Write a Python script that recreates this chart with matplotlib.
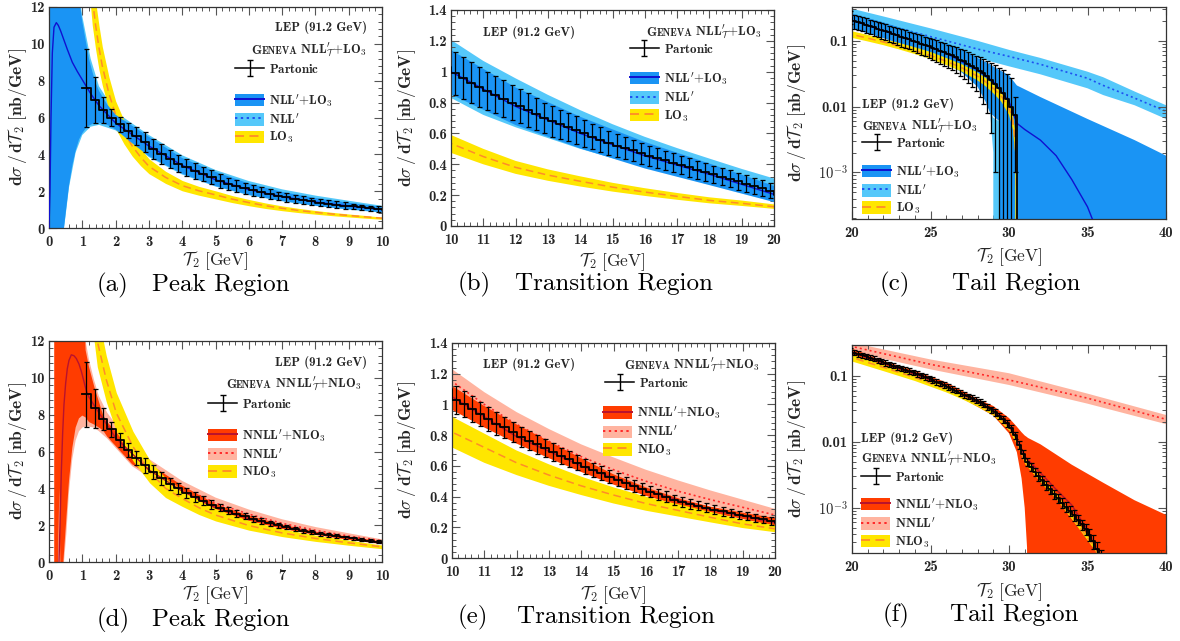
import numpy as np
import matplotlib
matplotlib.use("Agg")
import matplotlib.pyplot as plt
from matplotlib.patches import Patch
from matplotlib.lines import Line2D
from matplotlib.legend_handler import HandlerErrorbar
from matplotlib.container import ErrorbarContainer
from matplotlib.offsetbox import TextArea, HPacker, AnchoredOffsetbox
from matplotlib.ticker import MultipleLocator, FixedLocator, FixedFormatter, LogLocator, NullFormatter

plt.rcParams["mathtext.fontset"] = "cm"
plt.rcParams["axes.unicode_minus"] = False

# ===================== DATA =====================
BIN_WIDTH = 0.25
HIST_START = 1.0

# ---- Row 1: NLL'_T + LO3 ----
hist1_peak = [7.60, 6.95, 6.40, 6.00, 5.62, 5.28, 4.98, 4.68, 4.30, 4.00,
              3.75, 3.50, 3.30, 3.10, 2.93, 2.76, 2.55, 2.40, 2.27, 2.15,
              2.04, 1.94, 1.84, 1.74, 1.66, 1.58, 1.51, 1.44, 1.38, 1.32,
              1.27, 1.22, 1.17, 1.12, 1.07, 1.03]
err1_peak = [2.10, 1.25, 0.70, 0.45, 0.42, 0.42, 0.50, 0.55, 0.55, 0.55,
             0.50, 0.48, 0.45, 0.43, 0.40, 0.38, 0.36, 0.34, 0.32, 0.30,
             0.29, 0.27, 0.26, 0.24, 0.23, 0.22, 0.21, 0.20, 0.19, 0.18,
             0.17, 0.165, 0.16, 0.15, 0.145, 0.14]
hist1_trans = [0.99, 0.96, 0.93, 0.90, 0.875, 0.85, 0.825, 0.80, 0.775, 0.75,
               0.725, 0.70, 0.68, 0.66, 0.64, 0.62, 0.60, 0.58, 0.56, 0.54,
               0.52, 0.505, 0.49, 0.47, 0.455, 0.44, 0.425, 0.41, 0.395, 0.38,
               0.365, 0.35, 0.335, 0.32, 0.305, 0.29, 0.275, 0.26, 0.245, 0.23]
err1_trans = [0.14, 0.135, 0.13, 0.13, 0.125, 0.12, 0.12, 0.115, 0.11, 0.11,
              0.105, 0.10, 0.10, 0.095, 0.09, 0.09, 0.085, 0.082, 0.08, 0.078,
              0.075, 0.072, 0.07, 0.068, 0.066, 0.065, 0.064, 0.062, 0.061, 0.06,
              0.059, 0.058, 0.057, 0.056, 0.055, 0.054, 0.053, 0.052, 0.051, 0.05]
hist1_tail = [0.200, 0.192, 0.184, 0.176, 0.168, 0.161, 0.154, 0.147, 0.140, 0.134,
              0.128, 0.122, 0.116, 0.111, 0.106, 0.101, 0.096, 0.091, 0.087, 0.083,
              0.079, 0.075, 0.071, 0.067, 0.063, 0.060, 0.056, 0.052, 0.049, 0.045,
              0.042, 0.038, 0.035, 0.032, 0.029, 0.025, 0.022, 0.019, 0.016, 0.013,
              0.010, 0.0075, 0.0]
err1_tail = [0.046, 0.045, 0.044, 0.043, 0.042, 0.041, 0.040, 0.039, 0.038, 0.037,
             0.036, 0.035, 0.034, 0.033, 0.032, 0.031, 0.030, 0.030, 0.029, 0.029,
             0.028, 0.027, 0.026, 0.026, 0.025, 0.024, 0.024, 0.023, 0.023, 0.022,
             0.022, 0.021, 0.021, 0.021, 0.021, 0.021, 0.021, 0.020, 0.020, 0.018,
             0.017, 0.0065, 0.0]

# matched NLL'+LO3 central curve
m1_x = [0.0, 0.03, 0.06, 0.1, 0.15, 0.22, 0.28, 0.35, 0.45, 0.55,
        0.7, 0.85, 1.0, 1.25, 1.5, 2.0, 3.0, 4.0, 5.0, 6.0,
        7.0, 8.0, 9.0, 10.0, 12.0, 14.0, 16.0, 18.0, 20.0, 22.0,
        24.0, 26.0, 28.0, 29.0, 30.0, 30.5, 31.0, 32.0, 33.0, 34.0,
        35.0, 35.5]
m1_y = [0.0, 2.0, 6.0, 9.5, 10.9, 11.15, 11.0, 10.7, 10.2, 9.7,
        9.0, 8.5, 8.05, 7.3, 6.65, 5.7, 4.45, 3.4, 2.62, 2.08,
        1.7, 1.41, 1.19, 1.0, 0.775, 0.6, 0.455, 0.335, 0.205, 0.143,
        0.098, 0.065, 0.036, 0.024, 0.012, 0.0056, 0.0045, 0.0031, 0.0018, 0.00078,
        0.0003, 0.00015]
# matched NLL'+LO3 uncertainty band
mb1_x = [0.0, 0.45, 0.5, 0.6, 0.7, 0.8, 0.9, 1.0, 1.1, 1.2,
         1.3, 1.4, 1.5, 1.75, 2.0, 2.5, 3.0, 4.0, 5.0, 6.0,
         7.0, 8.0, 9.0, 10.0, 12.0, 14.0, 16.0, 18.0, 20.0, 22.0,
         24.0, 26.0, 27.0, 28.0, 28.5, 28.8, 29.38, 29.4, 30.0, 30.5,
         32.0, 35.0, 38.0, 40.0]
mb1_lo = [0.0, 0.0, 0.8, 2.3, 3.4, 4.2, 4.8, 5.15, 5.4, 5.55,
          5.65, 5.7, 5.72, 5.6, 5.35, 4.6, 3.9, 2.95, 2.28, 1.8,
          1.47, 1.21, 1.02, 0.853, 0.654, 0.503, 0.373, 0.265, 0.155, 0.11,
          0.075, 0.046, 0.033, 0.02, 0.012, 0.008, 0.006, 0.0, 0.0, 0.0,
          0.0, 0.0, 0.0, 0.0]
mb1_hi = [14.0, 14.0, 14.0, 14.0, 14.0, 14.0, 12.6, 11.2, 10.2, 9.2,
          8.5, 7.9, 7.45, 6.7, 6.15, 5.55, 4.95, 3.8, 3.05, 2.42,
          1.96, 1.63, 1.37, 1.14, 0.898, 0.708, 0.545, 0.405, 0.26, 0.19,
          0.135, 0.092, 0.075, 0.055, 0.048, 0.044, 0.036, 0.036, 0.03, 0.021,
          0.014, 0.0065, 0.0031, 0.0018]
# small light sliver at the left of the drop (tail)
sl1_x = [28.8, 29.0, 29.15, 29.4]
sl1_lo = [0.008, 0.002, 0.0, 0.0]
sl1_hi = [0.008, 0.0068, 0.0064, 0.006]
# NLL' resummed band and central
n1_x = [0.0, 0.45, 0.5, 0.6, 0.8, 1.0, 1.25, 1.5, 2.0, 3.0,
        4.0, 5.0, 6.0, 7.0, 8.0, 9.0, 10.0, 11.0, 12.0, 13.0,
        14.0, 15.0, 16.0, 17.0, 18.0, 19.0, 20.0, 22.0, 25.0, 28.0,
        30.0, 32.0, 35.0, 36.0, 38.0, 40.0]
n1_lo = [0.0, 0.0, 0.7, 2.2, 4.1, 5.05, 5.5, 5.6, 5.3, 3.85,
         2.9, 2.25, 1.78, 1.45, 1.2, 1.0, 0.83, 0.72, 0.64, 0.57,
         0.5, 0.44, 0.39, 0.34, 0.29, 0.24, 0.197, 0.152, 0.087, 0.055,
         0.041, 0.031, 0.019, 0.015, 0.0105, 0.0065]
n1_hi = [14.0, 14.0, 14.0, 14.0, 14.0, 11.5, 9.2, 7.7, 6.3, 5.05,
         3.95, 3.15, 2.55, 2.1, 1.76, 1.48, 1.206, 1.07, 0.957, 0.85,
         0.751, 0.66, 0.578, 0.505, 0.437, 0.37, 0.308, 0.235, 0.155, 0.1,
         0.073, 0.055, 0.034, 0.028, 0.017, 0.0105]
n1c_x = [1.0, 2.0, 3.0, 4.0, 5.0, 6.0, 7.0, 8.0, 9.0, 10.0,
         12.0, 14.0, 16.0, 18.0, 20.0, 22.0, 25.0, 28.0, 30.0, 32.0,
         35.0, 36.0, 38.0, 40.0]
n1c_y = [8.2, 5.8, 4.45, 3.42, 2.68, 2.15, 1.76, 1.46, 1.24, 1.03,
         0.8, 0.625, 0.48, 0.36, 0.233, 0.18, 0.116, 0.075, 0.058, 0.044,
         0.027, 0.021, 0.0135, 0.0085]
# LO3 fixed order
l1_x = [1.15, 1.3, 1.4, 1.5, 1.6, 1.8, 2.0, 2.25, 2.5, 2.75,
        3.0, 3.5, 4.0, 4.5, 5.0, 5.5, 6.0, 6.5, 7.0, 7.5,
        8.0, 8.5, 9.0, 9.5, 10.0, 11.0, 12.0, 13.0, 14.0, 15.0,
        16.0, 17.0, 18.0, 19.0, 20.0, 21.0, 22.0, 23.0, 24.0, 25.0,
        26.0, 27.0, 28.0, 28.5, 29.0, 29.5, 30.0, 30.25, 30.4, 30.5, 30.52]
l1_c = [16.0, 12.5, 11.0, 9.8, 8.8, 7.3, 6.15, 5.2, 4.45, 3.85,
        3.35, 2.75, 2.3, 2.02, 1.8, 1.57, 1.38, 1.21, 1.07, 0.95,
        0.85, 0.76, 0.68, 0.605, 0.535, 0.45, 0.38, 0.33, 0.29, 0.252,
        0.22, 0.192, 0.166, 0.147, 0.125, 0.11, 0.096, 0.083, 0.071, 0.06,
        0.049, 0.039, 0.029, 0.024, 0.019, 0.0145, 0.0095, 0.006, 0.003, 0.0005, 0.0]
l1_lo = [14.0, 11.0, 9.7, 8.6, 7.75, 6.4, 5.4, 4.57, 3.9, 3.38,
         2.95, 2.42, 2.02, 1.78, 1.58, 1.38, 1.21, 1.06, 0.94, 0.835,
         0.75, 0.67, 0.6, 0.532, 0.474, 0.4, 0.338, 0.293, 0.256, 0.223,
         0.195, 0.17, 0.147, 0.13, 0.111, 0.098, 0.086, 0.074, 0.063, 0.053,
         0.043, 0.034, 0.025, 0.0205, 0.016, 0.012, 0.0075, 0.0045, 0.0018, 0.0, 0.0]
l1_hi = [18.0, 14.0, 12.3, 11.0, 9.85, 8.2, 6.9, 5.85, 5.0, 4.32,
         3.76, 3.08, 2.58, 2.26, 2.02, 1.76, 1.55, 1.36, 1.2, 1.065,
         0.95, 0.85, 0.76, 0.68, 0.59, 0.5, 0.422, 0.367, 0.322, 0.28,
         0.245, 0.214, 0.186, 0.165, 0.14, 0.123, 0.107, 0.093, 0.08, 0.068,
         0.055, 0.044, 0.033, 0.0275, 0.022, 0.017, 0.0115, 0.0075, 0.0042, 0.0012, 0.0]

# ---- Row 2: NNLL'_T + NLO3 ----
hist2_peak = [9.10, 8.35, 7.75, 7.20, 6.60, 6.10, 5.65, 5.25, 4.90, 4.55,
              4.25, 4.00, 3.75, 3.52, 3.32, 3.12, 2.95, 2.78, 2.62, 2.48,
              2.35, 2.23, 2.11, 2.00, 1.89, 1.79, 1.70, 1.62, 1.54, 1.47,
              1.40, 1.34, 1.28, 1.22, 1.16, 1.10]
err2_peak = [1.75, 1.05, 0.60, 0.42, 0.38, 0.38, 0.40, 0.40, 0.38, 0.35,
             0.33, 0.30, 0.28, 0.26, 0.24, 0.22, 0.20, 0.19, 0.18, 0.17,
             0.16, 0.15, 0.14, 0.13, 0.125, 0.12, 0.115, 0.11, 0.105, 0.10,
             0.095, 0.09, 0.09, 0.085, 0.085, 0.08]
hist2_trans = [1.03, 1.00, 0.97, 0.94, 0.905, 0.875, 0.85, 0.82, 0.79, 0.765,
               0.74, 0.715, 0.69, 0.665, 0.645, 0.62, 0.595, 0.575, 0.555, 0.53,
               0.51, 0.49, 0.47, 0.45, 0.43, 0.415, 0.40, 0.38, 0.365, 0.352,
               0.34, 0.327, 0.315, 0.304, 0.293, 0.282, 0.271, 0.261, 0.251, 0.242]
err2_trans = [0.09, 0.085, 0.082, 0.079, 0.076, 0.073, 0.07, 0.067, 0.065, 0.062,
              0.06, 0.058, 0.056, 0.054, 0.052, 0.05, 0.048, 0.046, 0.045, 0.043,
              0.042, 0.04, 0.039, 0.038, 0.036, 0.035, 0.034, 0.033, 0.032, 0.031,
              0.03, 0.029, 0.029, 0.028, 0.027, 0.027, 0.026, 0.026, 0.025, 0.025]
hist2_tail = [0.225, 0.216, 0.207, 0.198, 0.190, 0.182, 0.174, 0.166, 0.158, 0.151,
              0.144, 0.137, 0.131, 0.125, 0.119, 0.113, 0.107, 0.102, 0.097, 0.092,
              0.087, 0.082, 0.077, 0.073, 0.068, 0.064, 0.060, 0.056, 0.052, 0.049,
              0.046, 0.043, 0.0405, 0.038, 0.034, 0.031, 0.028, 0.025, 0.022, 0.019,
              0.016, 0.0125, 0.009, 0.0065, 0.005, 0.0042, 0.0035, 0.003, 0.0026, 0.0022,
              0.0019, 0.0016, 0.0014, 0.0012, 0.00104, 0.0009, 0.00077, 0.00066, 0.00056, 0.00047,
              0.00039, 0.00031, 0.00024, 0.00018, 0.0]
err2_tail = [0.02, 0.02, 0.019, 0.018, 0.017, 0.016, 0.016, 0.015, 0.014, 0.014,
             0.013, 0.012, 0.012, 0.011, 0.011, 0.010, 0.010, 0.0095, 0.009, 0.0086,
             0.0082, 0.0078, 0.0074, 0.007, 0.0066, 0.0062, 0.0058, 0.0055, 0.0051, 0.0048,
             0.0046, 0.0043, 0.0041, 0.0039, 0.0036, 0.0033, 0.003, 0.0027, 0.0024, 0.0021,
             0.0018, 0.0015, 0.0012, 0.0009, 0.0007, 0.0006, 0.0005, 0.00045, 0.0004, 0.00034,
             0.0003, 0.00026, 0.00023, 0.0002, 0.00018, 0.00016, 0.00014, 0.00012, 0.0001, 0.00009,
             0.00008, 0.00007, 0.00006, 0.00005, 0.0]

m2_x = [0.3, 0.33, 0.37, 0.41, 0.45, 0.5, 0.55, 0.6, 0.67, 0.75,
        0.82, 0.9, 0.97, 1.05, 1.12, 1.2, 1.5, 2.0, 3.0, 4.0,
        5.0, 6.0, 7.0, 8.0, 9.0, 10.0, 12.0, 14.0, 16.0, 18.0,
        20.0, 22.0, 24.0, 26.0, 28.0, 29.0, 30.0, 30.5, 31.0, 32.0,
        33.0, 34.0, 35.0, 35.5, 35.8]
m2_y = [0.0, 2.0, 4.9, 7.0, 8.55, 9.7, 10.5, 10.95, 11.25, 11.2,
        11.05, 10.75, 10.36, 9.8, 9.3, 8.95, 8.1, 6.75, 5.0, 3.85,
        2.95, 2.36, 1.93, 1.58, 1.3, 1.05, 0.79, 0.6, 0.44, 0.315,
        0.23, 0.156, 0.106, 0.07, 0.04, 0.031, 0.0175, 0.011, 0.006, 0.0034,
        0.0019, 0.0011, 0.00046, 0.00026, 0.00018]
mb2_x = [0.16, 0.27, 0.31, 0.34, 0.43, 0.5, 0.6, 0.7, 0.8, 0.9,
         1.0, 1.05, 1.1, 1.2, 1.37, 1.5, 1.62, 1.75, 2.0, 2.5,
         3.0, 4.0, 5.0, 6.0, 7.0, 8.0, 9.0, 10.0, 11.0, 12.0,
         13.0, 14.0, 15.0, 16.0, 17.0, 18.0, 19.0, 20.0, 22.0, 24.0,
         26.0, 28.0, 29.0, 30.0, 30.5, 30.8, 31.0, 31.15, 31.2, 32.0,
         34.0, 36.0, 38.0, 40.0]
mb2_lo = [0.0, 0.0, 4.0, 0.0, 0.0, 1.8, 4.4, 6.2, 7.3, 7.8,
          7.95, 7.9, 7.85, 7.6, 7.45, 7.3, 7.15, 6.8, 6.3, 5.3,
          4.75, 3.7, 2.8, 2.23, 1.8, 1.47, 1.2, 0.965, 0.85, 0.745,
          0.65, 0.56, 0.478, 0.405, 0.345, 0.296, 0.254, 0.208, 0.14, 0.095,
          0.062, 0.034, 0.025, 0.0135, 0.007, 0.0028, 0.001, 0.00025, 0.0, 0.0,
          0.0, 0.0, 0.0, 0.0]
mb2_hi = [14.0, 14.0, 14.0, 14.0, 14.0, 14.0, 14.0, 14.0, 14.0, 14.0,
          14.0, 14.0, 11.5, 10.6, 9.45, 8.7, 8.0, 7.6, 7.1, 6.05,
          5.35, 4.15, 3.15, 2.52, 2.03, 1.65, 1.37, 1.12, 0.99, 0.87,
          0.76, 0.65, 0.545, 0.46, 0.39, 0.335, 0.295, 0.26, 0.17, 0.12,
          0.08, 0.045, 0.035, 0.023, 0.017, 0.014, 0.0125, 0.0118, 0.0115, 0.0092,
          0.0045, 0.0024, 0.0013, 0.00078]
n2_x = [0.15, 0.45, 0.52, 0.6, 0.7, 0.8, 0.9, 1.0, 1.1, 1.2,
        1.35, 1.5, 1.75, 2.0, 2.5, 3.0, 4.0, 5.0, 6.0, 7.0,
        8.0, 9.0, 10.0, 11.0, 12.0, 13.0, 14.0, 15.0, 16.0, 17.0,
        18.0, 19.0, 20.0, 25.0, 30.0, 35.0, 40.0]
n2_lo = [0.0, 0.0, 1.5, 3.8, 5.6, 6.6, 7.1, 7.3, 7.35, 7.35,
         7.3, 7.1, 6.7, 6.2, 5.2, 4.6, 3.6, 2.8, 2.25, 1.8,
         1.48, 1.22, 1.0, 0.88, 0.77, 0.67, 0.585, 0.51, 0.445, 0.39,
         0.34, 0.29, 0.234, 0.126, 0.073, 0.038, 0.0186]
n2_hi = [14.0, 14.0, 14.0, 14.0, 14.0, 14.0, 14.0, 14.0, 12.0, 11.0,
         9.9, 9.0, 8.1, 7.5, 6.4, 5.6, 4.4, 3.5, 2.85, 2.32,
         1.9, 1.56, 1.23, 1.08, 0.95, 0.84, 0.74, 0.655, 0.575, 0.505,
         0.44, 0.38, 0.32, 0.178, 0.11, 0.054, 0.0256]
n2c_x = [1.2, 1.5, 2.0, 2.5, 3.0, 4.0, 5.0, 6.0, 7.0, 8.0,
         9.0, 10.0, 11.0, 12.0, 13.0, 14.0, 15.0, 16.0, 17.0, 18.0,
         19.0, 20.0, 25.0, 30.0, 35.0, 40.0]
n2c_y = [8.6, 8.0, 7.0, 6.0, 5.2, 4.05, 3.2, 2.6, 2.1, 1.72,
         1.41, 1.15, 1.0, 0.87, 0.76, 0.66, 0.575, 0.5, 0.435, 0.38,
         0.33, 0.28, 0.15, 0.087, 0.046, 0.022]
l2_x = [1.3, 1.45, 1.72, 2.02, 2.52, 3.02, 3.5, 4.0, 4.5, 5.0,
        6.0, 7.0, 8.0, 9.0, 10.0, 11.0, 12.0, 13.0, 14.0, 15.0,
        16.0, 17.0, 18.0, 19.0, 20.0, 22.0, 24.0, 26.0, 27.0, 28.0,
        29.0, 30.0, 30.5, 31.0, 32.0, 33.0, 34.0, 35.0, 35.5, 36.0]
l2_c = [14.5, 12.0, 9.9, 8.1, 6.27, 4.9, 4.0, 3.45, 2.95, 2.55,
        1.98, 1.58, 1.28, 1.04, 0.82, 0.72, 0.62, 0.54, 0.47, 0.41,
        0.355, 0.31, 0.265, 0.222, 0.19, 0.135, 0.095, 0.063, 0.05, 0.038,
        0.028, 0.0165, 0.01, 0.0052, 0.0027, 0.0015, 0.00074, 0.00035, 0.00024, 0.00016]
l2_lo = [12.8, 10.6, 8.7, 7.1, 5.5, 4.3, 3.5, 3.02, 2.58, 2.23,
         1.73, 1.38, 1.12, 0.91, 0.72, 0.62, 0.54, 0.47, 0.41, 0.355,
         0.308, 0.27, 0.232, 0.195, 0.168, 0.12, 0.085, 0.057, 0.045, 0.0345,
         0.0255, 0.015, 0.0091, 0.0047, 0.00245, 0.00136, 0.00067, 0.00032, 0.00022, 0.00014]
l2_hi = [16.5, 13.6, 11.2, 9.2, 7.1, 5.55, 4.55, 3.92, 3.35, 2.9,
         2.25, 1.8, 1.46, 1.19, 0.92, 0.81, 0.7, 0.61, 0.53, 0.46,
         0.4, 0.35, 0.3, 0.25, 0.214, 0.15, 0.105, 0.069, 0.055, 0.0415,
         0.0305, 0.018, 0.0109, 0.0057, 0.00295, 0.00164, 0.00081, 0.00038, 0.00026, 0.000175]

captions = [("(a)", "Peak Region"), ("(b)", "Transition Region"), ("(c)", "Tail Region"),
            ("(d)", "Peak Region"), ("(e)", "Transition Region"), ("(f)", "Tail Region")]

# ===================== STYLE =====================
W, H = 1180, 641
fig = plt.figure(figsize=(W / 100, H / 100), dpi=100)

TXT = "#262626"
rows = [
    dict(hist=(hist1_peak + hist1_trans + hist1_tail), err=(err1_peak + err1_trans + err1_tail),
         mx=m1_x, my=m1_y, mbx=mb1_x, mblo=mb1_lo, mbhi=mb1_hi,
         nx=n1_x, nlo=n1_lo, nhi=n1_hi, ncx=n1c_x, ncy=n1c_y,
         lx=l1_x, lc=l1_c, llo=l1_lo, lhi=l1_hi,
         c_band="#1A94F4", c_line="#1010D0", c_nband="#55C8FA", c_nline="#1E50F0",
         c_fo="#FFE600", c_fol="#FF8C28",
         labels=[r"$\mathbf{NLL}^{\prime}\mathbf{+LO_3}$", r"$\mathbf{NLL}^{\prime}$", r"$\mathbf{LO_3}$"],
         geneva=r"$\ \mathbf{NLL}^{\prime}_{\mathcal{T}}\mathbf{+LO_3}$",
         fo_over=[False, False, True]),
    dict(hist=(hist2_peak + hist2_trans + hist2_tail), err=(err2_peak + err2_trans + err2_tail),
         mx=m2_x, my=m2_y, mbx=mb2_x, mblo=mb2_lo, mbhi=mb2_hi,
         nx=n2_x, nlo=n2_lo, nhi=n2_hi, ncx=n2c_x, ncy=n2c_y,
         lx=l2_x, lc=l2_c, llo=l2_lo, lhi=l2_hi,
         c_band="#FF3C00", c_line="#B8122E", c_nband="#FFB4A0", c_nline="#FF2828",
         c_fo="#FFE600", c_fol="#FF8C28",
         labels=[r"$\mathbf{NNLL}^{\prime}\mathbf{+NLO_3}$", r"$\mathbf{NNLL}^{\prime}$", r"$\mathbf{NLO_3}$"],
         geneva=r"$\ \mathbf{NNLL}^{\prime}_{\mathcal{T}}\mathbf{+NLO_3}$",
         fo_over=[True, True, True]),
]

# axes rectangles in pixels (left, top, right, bottom)
rects = [[(49, 7, 382, 228), (451, 10, 774, 226), (852, 7, 1166, 219)],
         [(49, 341, 382, 562), (452, 343, 775, 558), (852, 345, 1166, 553)]]
ylab_x = [[-0.06, -0.102, -0.14], [-0.06, -0.105, -0.14]]
xlab_y = [[-0.095, -0.112, -0.123], [-0.097, -0.116, -0.13]]

# legend/annotation positions in axes coords per panel
lay = [
    [dict(lep=(0.955, 0.905, "right"), gen=(0.955, 0.805, "right"), part=(0.559, 0.748), band=(0.559, 0.616)),
     dict(lep=(0.099, 0.898, "left"), gen=(0.963, 0.898, "right"), part=(0.554, 0.848), band=(0.554, 0.722)),
     dict(lep=(0.032, 0.538, "left"), gen=(0.032, 0.439, "left"), part=(0.032, 0.388), band=(0.032, 0.265))],
    [dict(lep=(0.955, 0.904, "right"), gen=(0.94, 0.805, "right"), part=(0.478, 0.743), band=(0.478, 0.612)),
     dict(lep=(0.097, 0.898, "left"), gen=(0.954, 0.898, "right"), part=(0.474, 0.843), band=(0.468, 0.714)),
     dict(lep=(0.029, 0.551, "left"), gen=(0.029, 0.455, "left"), part=(0.029, 0.397), band=(0.029, 0.274))],
]
cap_pos = [[(97, 152, 291), (458, 515, 290), (880, 952, 290)],
           [(97, 152, 626), (458, 517, 623), (883, 950, 621)]]

xlims = [(0, 10), (10, 20), (20, 40)]
ylims_row = [[(0, 12), (0, 1.4), (1.96e-4, 0.327)], [(0, 12), (0, 1.4), (2.06e-4, 0.295)]]


def add_ax(l, t, r, b):
    return fig.add_axes([l / W, 1 - b / H, (r - l) / W, (b - t) / H])


def style_axis(ax, k, ylim):
    ax.set_xlim(*xlims[k])
    if k == 2:
        ax.set_yscale("log")
        ax.set_ylim(*ylim)
        ax.yaxis.set_major_locator(FixedLocator([1e-3, 1e-2, 1e-1]))
        ax.yaxis.set_major_formatter(FixedFormatter([r"$\mathbf{10^{-3}}$", "0.01", "0.1"]))
        ax.yaxis.set_minor_locator(LogLocator(base=10, subs=np.arange(2, 10)))
        ax.yaxis.set_minor_formatter(NullFormatter())
        ax.xaxis.set_major_locator(MultipleLocator(5))
        ax.xaxis.set_minor_locator(MultipleLocator(1))
    else:
        ax.set_ylim(*ylim)
        ax.xaxis.set_major_locator(MultipleLocator(1))
        ax.xaxis.set_minor_locator(MultipleLocator(0.2))
        if k == 0:
            ax.yaxis.set_major_locator(MultipleLocator(2))
            ax.yaxis.set_minor_locator(MultipleLocator(0.4))
        else:
            ax.yaxis.set_major_locator(FixedLocator([0, 0.2, 0.4, 0.6, 0.8, 1.0, 1.2, 1.4]))
            ax.yaxis.set_major_formatter(FixedFormatter(["0", "0.2", "0.4", "0.6", "0.8", "1", "1.2", "1.4"]))
            ax.yaxis.set_minor_locator(MultipleLocator(0.04))
    ax.tick_params(which="both", direction="in", top=True, right=True, colors="#555555",
                   labelcolor=TXT, labelsize=10.5, labelfontfamily="cmb10")
    ax.tick_params(axis="x", which="both", pad=5)
    ax.tick_params(axis="y", which="both", pad=3)
    ax.tick_params(which="major", length=6, width=0.8)
    ax.tick_params(which="minor", length=3, width=0.7)
    for s in ax.spines.values():
        s.set_color("#333333")
        s.set_linewidth(0.9)


for ri, row in enumerate(rows):
    vals = np.array(row["hist"])
    errs = np.array(row["err"])
    edges = HIST_START + BIN_WIDTH * np.arange(len(vals) + 1)
    centers = 0.5 * (edges[:-1] + edges[1:])
    sx = np.repeat(edges, 2)[1:-1]
    sy = np.repeat(vals, 2)
    for k in range(3):
        ax = add_ax(*rects[ri][k])
        style_axis(ax, k, ylims_row[ri][k])
        fo_z = 2.5 if row["fo_over"][k] else 1.8
        ax.fill_between(row["nx"], row["nlo"], row["nhi"], color=row["c_nband"], lw=0, zorder=1)
        ax.plot(row["ncx"], row["ncy"], color=row["c_nline"], ls=(0, (1.2, 1.8)), lw=1.2, zorder=1.5)
        ax.fill_between(row["lx"], row["llo"], row["lhi"], color=row["c_fo"], lw=0, zorder=fo_z)
        ax.plot(row["lx"], row["lc"], color=row["c_fol"], ls=(0, (5, 3)), lw=1.1, zorder=fo_z + 0.1)
        ax.fill_between(row["mbx"], row["mblo"], row["mbhi"], color=row["c_band"], lw=0, zorder=2)
        if ri == 0 and k == 2:
            ax.fill_between(sl1_x, sl1_lo, sl1_hi, color=row["c_nband"], lw=0, zorder=2)
        ax.plot(row["mx"], row["my"], color=row["c_line"], lw=1.0, zorder=3)
        ax.plot(sx, sy, color="black", lw=1.3, zorder=4)
        ax.errorbar(centers, vals, yerr=errs, fmt="none", ecolor="black", elinewidth=0.9,
                    capsize=1.8, capthick=0.9, zorder=4)

        # axis labels
        ax.set_ylabel(r"$\mathbf{d}\sigma\,/\,\mathbf{d}\mathcal{T}_2\ \mathbf{[nb/GeV]}$",
                      fontsize=12.5, color=TXT)
        ax.yaxis.set_label_coords(ylab_x[ri][k], 0.5)
        ax.set_xlabel(r"$\mathcal{T}_2\ \mathrm{[GeV]}$", fontsize=12.5, color=TXT)
        ax.xaxis.set_label_coords(0.5, xlab_y[ri][k])

        L = lay[ri][k]
        x, y, ha = L["lep"]
        ax.text(x, y, "LEP (91.2 GeV)", transform=ax.transAxes, ha=ha, va="center",
                fontsize=9.3, fontfamily="cmb10", color=TXT, zorder=6)
        x, y, ha = L["gen"]
        parts = [TextArea("G", textprops=dict(fontsize=9.3, color=TXT, fontfamily="cmb10")),
                 TextArea("ENEVA", textprops=dict(fontsize=7.2, color=TXT, fontfamily="cmb10")),
                 TextArea(row["geneva"], textprops=dict(fontsize=9.3, color=TXT))]
        pack = HPacker(children=parts, align="baseline", pad=0, sep=0)
        anc = AnchoredOffsetbox(loc="center right" if ha == "right" else "center left", child=pack,
                                pad=0, borderpad=0, frameon=False, bbox_to_anchor=(x, y),
                                bbox_transform=ax.transAxes)
        anc.set_zorder(6)
        ax.add_artist(anc)

        eb = ax.errorbar([np.nan], [np.nan], yerr=[np.nan], fmt="-", color="black", lw=1.1,
                         elinewidth=1.0, capsize=2.0, capthick=1.0)
        leg1 = ax.legend([eb], [r"$\mathbf{Partonic}$"], loc="upper left", bbox_to_anchor=L["part"],
                         frameon=False, fontsize=9.3, handlelength=2.25, handleheight=1.1,
                         handletextpad=0.35, borderpad=0, borderaxespad=0,
                         handler_map={ErrorbarContainer: HandlerErrorbar(yerr_size=0.62)})
        for t in leg1.get_texts():
            t.set_color(TXT)
        ax.add_artist(leg1)
        handles = [(Patch(facecolor=row["c_band"], edgecolor="none"),
                    Line2D([], [], color=row["c_line"], lw=1.4)),
                   (Patch(facecolor=row["c_nband"], edgecolor="none"),
                    Line2D([], [], color=row["c_nline"], lw=1.4, ls=(0, (1.2, 1.8)))),
                   (Patch(facecolor=row["c_fo"], edgecolor="none"),
                    Line2D([], [], color=row["c_fol"], lw=1.3, ls=(0, (5, 3))))]
        leg2 = ax.legend(handles, row["labels"], loc="upper left", bbox_to_anchor=L["band"],
                         frameon=False, fontsize=9.3, handlelength=2.25, handleheight=1.12,
                         handletextpad=0.35, labelspacing=0.27, borderpad=0, borderaxespad=0)
        for t in leg2.get_texts():
            t.set_color(TXT)
        leg2.set_zorder(7)

        lab, title = captions[ri * 3 + k]
        lx0, tx0, by = cap_pos[ri][k]
        fig.text(lx0 / W, 1 - by / H, lab, fontfamily="cmr10", fontsize=18, va="baseline", ha="left")
        fig.text(tx0 / W, 1 - by / H, title, fontfamily="cmr10", fontsize=18, va="baseline", ha="left")

fig.savefig("out.png", dpi=100, facecolor="white")
